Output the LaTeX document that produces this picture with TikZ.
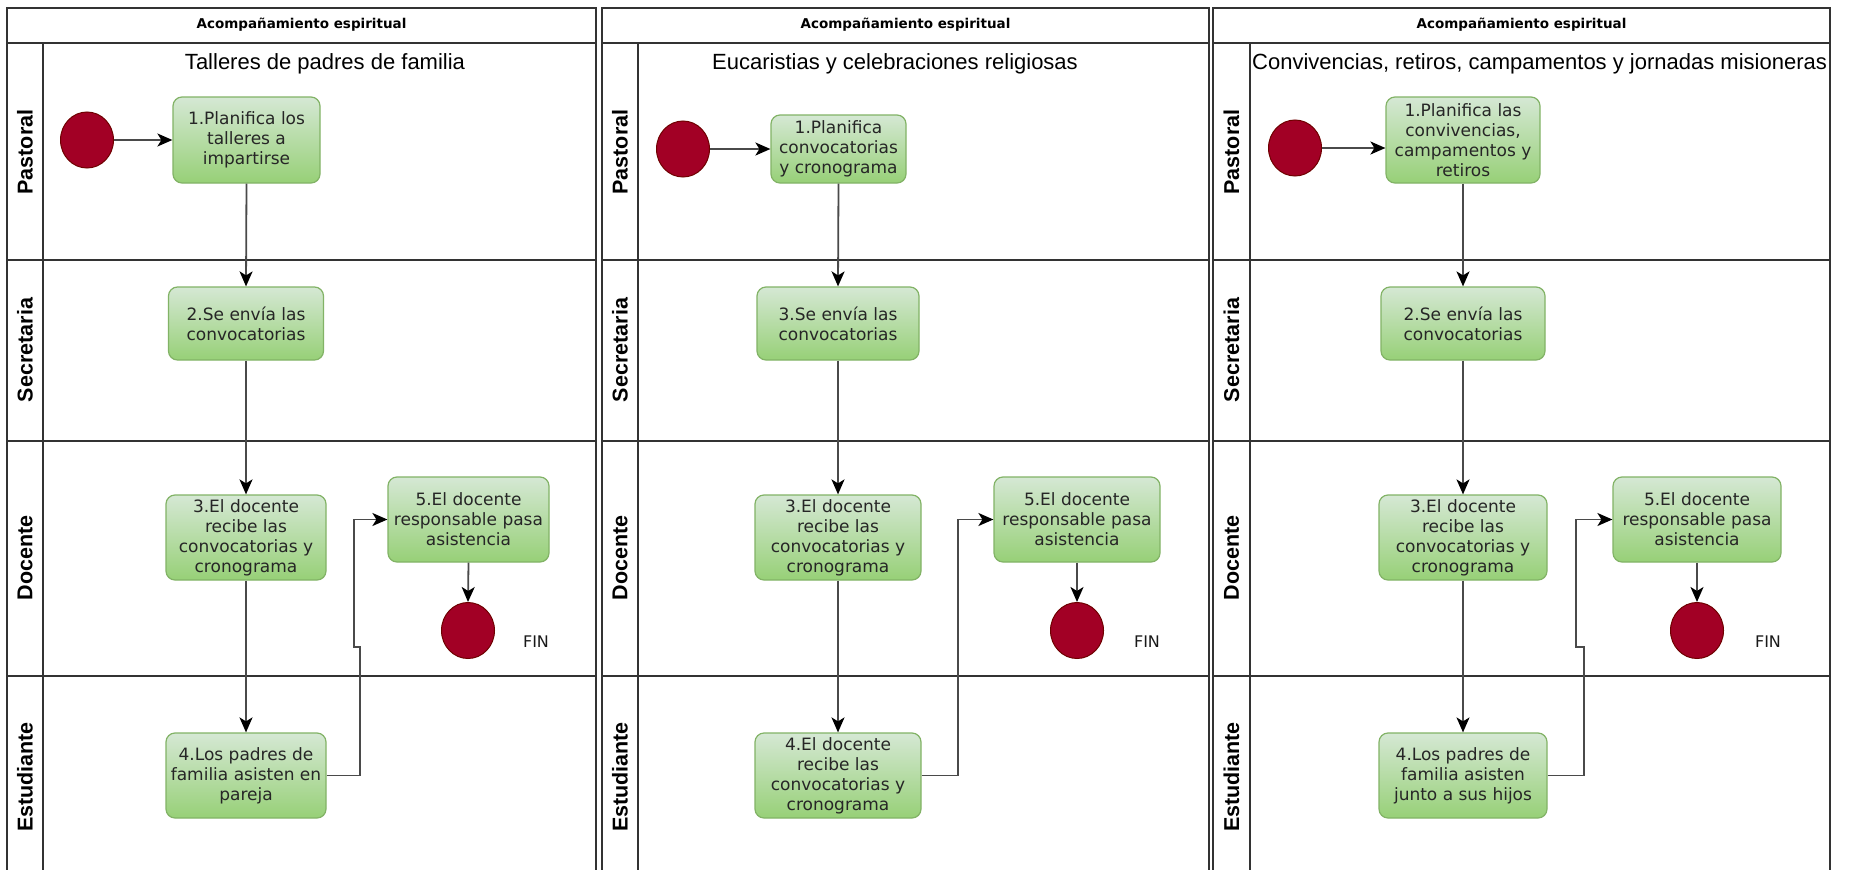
\documentclass[tikz,border=0pt]{standalone}
\usepackage{fontspec}
\setmainfont{DejaVu Sans}
\newfontfamily\arialf{Liberation Sans}
\newfontfamily\dejavu{DejaVu Sans}
\usetikzlibrary{arrows.meta,shapes.geometric}
\definecolor{linec}{HTML}{333333}
\definecolor{connc}{HTML}{4A4A4A}
\definecolor{taskt}{HTML}{D5E8D4}
\definecolor{taskb}{HTML}{97D077}
\definecolor{taskline}{HTML}{82B366}
\definecolor{evfill}{HTML}{A20025}
\definecolor{evline}{HTML}{6F0000}
\tikzset{
  lane/.style={draw=linec, line width=1.9pt},
  task/.style={draw=taskline, line width=1.2pt, rounded corners=9pt,
    top color=taskt, bottom color=taskb, inner sep=0pt, align=center,
    font=\dejavu\fontsize{17}{20}\selectfont, text=black!85},
  evt/.style={ellipse, draw=evline, line width=1pt, fill=evfill,
    minimum width=53pt, minimum height=56pt, inner sep=0pt},
  conn/.style={draw=connc, line width=1.8pt,
    -{Stealth[length=15pt,width=13pt,inset=4pt,fill=black,color=black]}},
  head/.style={font=\dejavu\bfseries\fontsize{13.5}{16}\selectfont},
  sub/.style={font=\arialf\fontsize{22}{26}\selectfont, inner sep=0pt},
  lanelab/.style={font=\arialf\bfseries\fontsize{21.5}{24}\selectfont, rotate=90},
  fin/.style={font=\dejavu\fontsize{16}{18}\selectfont, text=black!90}
}
\begin{document}
\begin{tikzpicture}[x=1pt,y=-1pt]
\useasboundingbox (0,0) rectangle (1856,870);
\fill[white] (0,0) rectangle (1856,870);

% ---------- frames ----------
\foreach \L/\H/\R/\k in {7/43/596/1, 602/638/1209/2, 1213/1250/1830/3} {
  \draw[lane] (\L,870) -- (\L,8) -- (\R,8) -- (\R,870);
  \draw[lane] (\L,43) -- (\R,43);
  \draw[lane] (\H,43) -- (\H,870);
  \draw[lane] (\L,260) -- (\R,260);
  \draw[lane] (\L,441) -- (\R,441);
  \draw[lane] (\L,676) -- (\R,676);
  \node[head] (head\k) at ({(\L+\R)/2},25) {Acompañamiento espiritual};
  \node[lanelab] (lp\k) at ({(\L+\H)/2},152) {Pastoral};
  \node[lanelab] (ls\k) at ({(\L+\H)/2},350) {Secretaria};
  \node[lanelab] (ld\k) at ({(\L+\H)/2},558) {Docente};
  \node[lanelab] (le\k) at ({(\L+\H)/2},777) {Estudiante};
}

% ---------- subtitles ----------
\node[sub, anchor=base] (sub1) at (325,69) {Talleres de padres de familia};
\node[sub, anchor=base] (sub2) at (895,69) {Eucaristias y celebraciones religiosas};
\node[sub, anchor=base west] (sub3) at (1252,69) {Convivencias, retiros, campamentos y jornadas misioneras};

% ---------- panel 1 ----------
\node[evt] (p1s) at (87,140) {};
\node[task, minimum width=147pt, minimum height=86pt] (p1b1) at (246.5,140) {1.Planifica los\\talleres a\\impartirse};
\node[task, minimum width=155pt, minimum height=73pt] (p1b2) at (246,323.5) {2.Se envía las\\convocatorias};
\node[task, minimum width=160pt, minimum height=85pt] (p1b3) at (246,537.5) {3.El docente\\recibe las\\convocatorias y\\cronograma};
\node[task, minimum width=160pt, minimum height=85pt] (p1b4) at (246,775.5) {4.Los padres de\\familia asisten en\\pareja};
\node[task, minimum width=161pt, minimum height=85pt] (p1b5) at (468.5,519.5) {5.El docente\\responsable pasa\\asistencia};
\node[evt] (p1f) at (468,630.5) {};
\node[fin] (p1fin) at (536,642) {FIN};
\coordinate (p1j1) at (360,647);
\coordinate (p1j2) at (354,647);
\draw[conn] (p1s.east) -- (p1s.east -| p1b1.west);
\draw[conn] (p1b1.south) -- (p1b2.north);
\draw[conn] (p1b2.south) -- (p1b3.north);
\draw[conn] (p1b3.south) -- (p1b4.north);
\draw[conn] (p1b5.south) -- (p1f.north);
\draw[conn] (p1b4.east) -| (p1j1) -- (p1j2) |- (p1b5.west);

% ---------- panel 2 ----------
\node[evt] (p2s) at (683,149) {};
\node[task, minimum width=135pt, minimum height=68pt] (p2b1) at (838.5,149) {1.Planifica\\convocatorias\\y cronograma};
\node[task, minimum width=162pt, minimum height=73pt] (p2b2) at (838,323.5) {3.Se envía las\\convocatorias};
\node[task, minimum width=166pt, minimum height=85pt] (p2b3) at (838,537.5) {3.El docente\\recibe las\\convocatorias y\\cronograma};
\node[task, minimum width=166pt, minimum height=85pt] (p2b4) at (838,775.5) {4.El docente\\recibe las\\convocatorias y\\cronograma};
\node[task, minimum width=166pt, minimum height=85pt] (p2b5) at (1077,519.5) {5.El docente\\responsable pasa\\asistencia};
\node[evt] (p2f) at (1077,630.5) {};
\node[fin] (p2fin) at (1147,642) {FIN};
\coordinate (p2j) at (958,650);
\draw[conn] (p2s.east) -- (p2s.east -| p2b1.west);
\draw[conn] (p2b1.south) -- (p2b2.north);
\draw[conn] (p2b2.south) -- (p2b3.north);
\draw[conn] (p2b3.south) -- (p2b4.north);
\draw[conn] (p2b5.south) -- (p2f.north);
\draw[conn] (p2b4.east) -| (p2j) |- (p2b5.west);

% ---------- panel 3 ----------
\node[evt] (p3s) at (1295,148) {};
\node[task, minimum width=154pt, minimum height=86pt] (p3b1) at (1463,140) {1.Planifica las\\convivencias,\\campamentos y\\retiros};
\node[task, minimum width=164pt, minimum height=73pt] (p3b2) at (1463,323.5) {2.Se envía las\\convocatorias};
\node[task, minimum width=168pt, minimum height=85pt] (p3b3) at (1463,537.5) {3.El docente\\recibe las\\convocatorias y\\cronograma};
\node[task, minimum width=168pt, minimum height=85pt] (p3b4) at (1463,775.5) {4.Los padres de\\familia asisten\\junto a sus hijos};
\node[task, minimum width=168pt, minimum height=85pt] (p3b5) at (1697,519.5) {5.El docente\\responsable pasa\\asistencia};
\node[evt] (p3f) at (1697,630.5) {};
\node[fin] (p3fin) at (1768,642) {FIN};
\coordinate (p3j1) at (1584,647);
\coordinate (p3j2) at (1576,647);
\draw[conn] (p3s.east) -- (p3s.east -| p3b1.west);
\draw[conn] (p3b1.south) -- (p3b2.north);
\draw[conn] (p3b2.south) -- (p3b3.north);
\draw[conn] (p3b3.south) -- (p3b4.north);
\draw[conn] (p3b5.south) -- (p3f.north);
\draw[conn] (p3b4.east) -| (p3j1) -- (p3j2) |- (p3b5.west);
\end{tikzpicture}
\end{document}
